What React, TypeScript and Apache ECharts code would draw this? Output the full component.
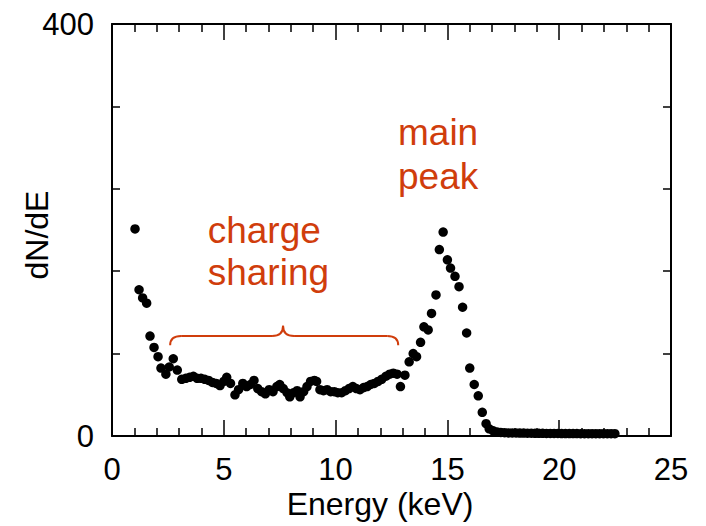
import React, { useEffect, useRef } from 'react';
import * as echarts from 'echarts';

// Measured spectrum: energy bins (keV) and counts per bin
const ENERGY_KEV = [
  1.03, 1.21, 1.37, 1.55, 1.70, 1.88, 2.06, 2.19, 2.41, 2.56, 2.74, 2.92,
  3.12, 3.30, 3.47, 3.64, 3.81, 3.98, 4.15, 4.32, 4.49, 4.66, 4.83, 5.00,
  5.13, 5.30, 5.50, 5.66, 5.85, 6.02, 6.19, 6.35, 6.52, 6.69, 6.86, 7.03,
  7.20, 7.37, 7.50, 7.66, 7.83, 7.95, 8.11, 8.28, 8.41, 8.57, 8.72, 8.88,
  9.05, 9.15, 9.30, 9.46, 9.62, 9.78, 9.94, 10.10, 10.27, 10.44, 10.60, 10.77,
  10.93, 11.09, 11.25, 11.41, 11.57, 11.73, 11.90, 12.06, 12.25, 12.42, 12.58, 12.75,
  12.90, 13.10, 13.29, 13.47, 13.62, 13.80, 13.95, 14.14, 14.29, 14.49, 14.64, 14.81,
  15.00, 15.14, 15.34, 15.52, 15.68, 15.86, 16.00, 16.20, 16.38, 16.56, 16.73, 16.87,
  17.05, 17.22, 17.39, 17.56, 17.73, 17.90, 18.07, 18.24, 18.41, 18.58, 18.75, 18.92,
  19.09, 19.26, 19.43, 19.60, 19.77, 19.94, 20.11, 20.28, 20.45, 20.62, 20.79, 20.96,
  21.13, 21.30, 21.47, 21.64, 21.81, 21.98, 22.15, 22.32, 22.49,
];

const COUNTS = [
  201, 142, 134, 129, 97, 86, 77, 66, 60, 67, 75, 64,
  55, 56, 57, 58, 56, 56, 55, 54, 52, 51, 49, 53,
  57, 51, 40, 45, 51, 48, 50, 54, 46, 43, 41, 45,
  43, 48, 50, 46, 42, 38, 42, 44, 38, 43, 48, 53,
  54, 53, 45, 44, 45, 43, 43, 42, 42, 44, 46, 48,
  46, 45, 47, 48, 50, 51, 53, 55, 58, 60, 61, 60,
  48, 59, 72, 80, 77, 91, 106, 103, 119, 137, 181, 198,
  171, 163, 155, 145, 125, 100, 66, 50, 39, 23, 12, 7,
  5, 4, 3.5, 3.2, 3, 3, 3, 2.8, 2.8, 2.7, 2.7, 2.6,
  2.6, 2.6, 2.5, 2.5, 2.5, 2.5, 2.4, 2.4, 2.4, 2.4, 2.4, 2.3,
  2.3, 2.3, 2.3, 2.3, 2.2, 2.2, 2.2, 2.2, 2.2,
];

const X_LABELS = ['0', '5', '10', '15', '20', '25'];
const Y_LABELS = ['0', '400'];

// Annotation anchors in data units (keV, counts)
const BRACE_START_KEV = 2.6;
const BRACE_END_KEV = 12.8;
const BRACE_MID_KEV = 7.65;
const BRACE_LEVELS = { ends: 88, bar: 97, tip: 107 };

const FONT = '"Liberation Sans", Arial, Helvetica, sans-serif';
const ACCENT = '#d03d0c';

export default function App() {
  const ref = useRef<HTMLDivElement>(null);

  useEffect(() => {
    if (!ref.current) return;
    document.body.style.margin = '0';
    const chart = echarts.init(ref.current, undefined, { renderer: 'svg' });

    const lineStyle = { color: '#000', width: 2 };
    const tickStyle = { color: '#000', width: 1.5 };

    const xBase = {
      type: 'value' as const,
      min: 0,
      max: 25,
      interval: 5,
      axisLine: { show: true, onZero: false, lineStyle },
      axisTick: { show: true, inside: true, length: 16, lineStyle: tickStyle },
      minorTick: { show: true, splitNumber: 5, length: 8, lineStyle: tickStyle },
      splitLine: { show: false },
      minorSplitLine: { show: false },
    };
    const yBase = {
      type: 'value' as const,
      min: 0,
      max: 400,
      interval: 80,
      axisLine: { show: true, onZero: false, lineStyle },
      axisTick: { show: true, inside: true, length: 8, lineStyle: tickStyle },
      splitLine: { show: false },
    };

    chart.setOption({
      animation: false,
      grid: { left: 112, top: 24, right: 35, bottom: 90 },
      xAxis: [
        {
          ...xBase,
          position: 'bottom',
          axisLabel: {
            fontSize: 31,
            color: '#000',
            fontFamily: FONT,
            margin: 18,
            formatter: (v: number) => X_LABELS.find((l) => Number(l) === v) ?? '',
          },
        },
        { ...xBase, position: 'top', axisLabel: { show: false } },
      ],
      yAxis: [
        {
          ...yBase,
          position: 'left',
          axisLabel: {
            fontSize: 31,
            color: '#000',
            fontFamily: FONT,
            margin: 18,
            formatter: (v: number) => Y_LABELS.find((l) => Number(l) === v) ?? '',
          },
        },
        { ...yBase, position: 'right', axisLabel: { show: false } },
      ],
      series: [
        {
          type: 'scatter',
          xAxisIndex: 0,
          yAxisIndex: 0,
          symbol: 'circle',
          symbolSize: 9.5,
          itemStyle: { color: '#000', opacity: 1 },
          data: ENERGY_KEV.map((e, i) => [e, COUNTS[i]]),
        },
      ],
    });

    const px = (x: number, y: number) =>
      chart.convertToPixel({ xAxisIndex: 0, yAxisIndex: 0 }, [x, y]) as number[];

    const [x1, yEnd] = px(BRACE_START_KEV, BRACE_LEVELS.ends);
    const [x2] = px(BRACE_END_KEV, BRACE_LEVELS.ends);
    const [xm, yBar] = px(BRACE_MID_KEV, BRACE_LEVELS.bar);
    const [, yTip] = px(BRACE_MID_KEV, BRACE_LEVELS.tip);
    const r = 11;
    const braceStyle = { stroke: ACCENT, lineWidth: 2, fill: 'none' };

    const [mainX, mainY] = px(12.79, 295);
    const [, peakY] = px(12.79, 252);
    const [chargeX, chargeY] = px(4.28, 200);
    const [, sharingY] = px(4.28, 159);

    const label = (text: string, x: number, y: number) => ({
      type: 'text',
      x,
      y,
      style: {
        text,
        fill: ACCENT,
        font: `37px ${FONT}`,
        align: 'left',
        verticalAlign: 'middle',
      },
    });

    chart.setOption({
      graphic: [
        {
          type: 'group',
          children: [
            { type: 'bezierCurve', shape: { x1, y1: yEnd, cpx1: x1, cpy1: yBar, x2: x1 + r, y2: yBar }, style: braceStyle },
            { type: 'line', shape: { x1: x1 + r, y1: yBar, x2: xm - r, y2: yBar }, style: braceStyle },
            { type: 'bezierCurve', shape: { x1: xm - r, y1: yBar, cpx1: xm, cpy1: yBar, x2: xm, y2: yTip }, style: braceStyle },
            { type: 'bezierCurve', shape: { x1: xm, y1: yTip, cpx1: xm, cpy1: yBar, x2: xm + r, y2: yBar }, style: braceStyle },
            { type: 'line', shape: { x1: xm + r, y1: yBar, x2: x2 - r, y2: yBar }, style: braceStyle },
            { type: 'bezierCurve', shape: { x1: x2 - r, y1: yBar, cpx1: x2, cpy1: yBar, x2: x2, y2: yEnd }, style: braceStyle },
          ],
        },
        label('main', mainX, mainY),
        label('peak', mainX, peakY),
        label('charge', chargeX, chargeY),
        label('sharing', chargeX, sharingY),
        {
          type: 'text',
          x: 380,
          y: 504,
          style: {
            text: 'Energy (keV)',
            fill: '#000',
            font: `32px ${FONT}`,
            align: 'center',
            verticalAlign: 'middle',
          },
        },
        {
          type: 'text',
          x: 37,
          y: 235,
          rotation: Math.PI / 2,
          style: {
            text: 'dN/dE',
            fill: '#000',
            font: `32px ${FONT}`,
            align: 'center',
            verticalAlign: 'middle',
          },
        },
      ],
    });

    return () => chart.dispose();
  }, []);

  return (
    <div
      ref={ref}
      style={{ position: 'fixed', left: 0, top: 0, width: 706, height: 526, background: '#fff' }}
    />
  );
}
